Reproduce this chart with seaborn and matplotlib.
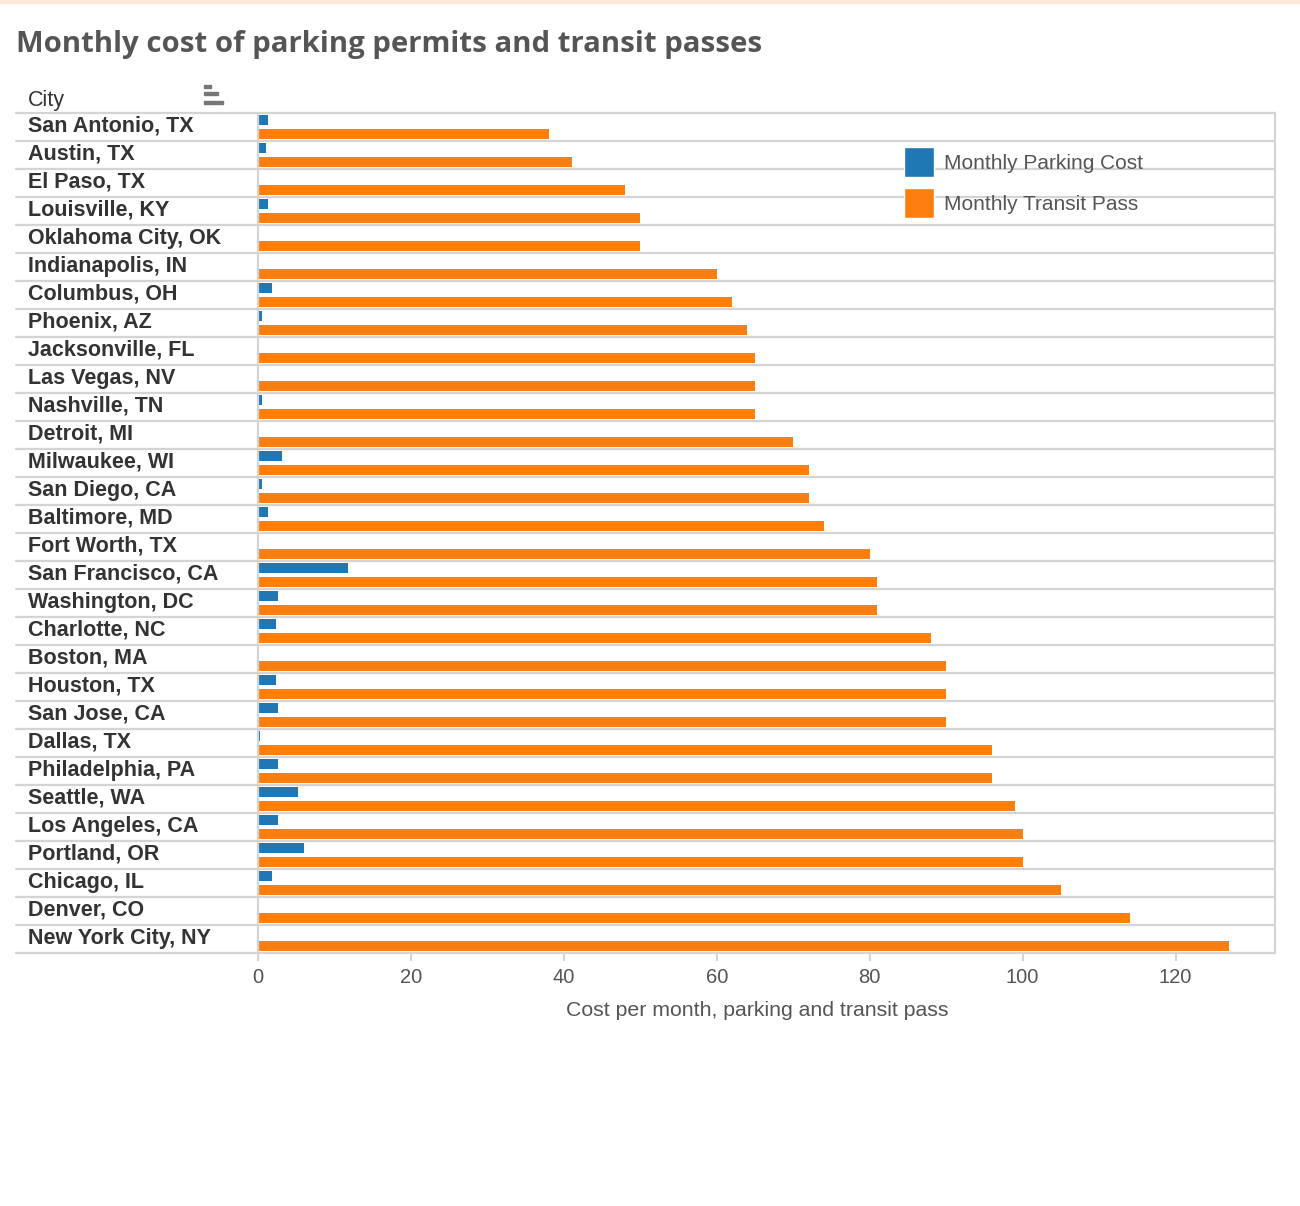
import pandas as pd
import matplotlib.pyplot as plt
import matplotlib.transforms as mtransforms
from matplotlib.patches import Patch, Rectangle
import seaborn as sns

# Data (sorted by transit pass, ascending)
cities = [
    "San Antonio, TX", "Austin, TX", "El Paso, TX", "Louisville, KY",
    "Oklahoma City, OK", "Indianapolis, IN", "Columbus, OH", "Phoenix, AZ",
    "Jacksonville, FL", "Las Vegas, NV", "Nashville, TN", "Detroit, MI",
    "Milwaukee, WI", "San Diego, CA", "Baltimore, MD", "Fort Worth, TX",
    "San Francisco, CA", "Washington, DC", "Charlotte, NC", "Boston, MA",
    "Houston, TX", "San Jose, CA", "Dallas, TX", "Philadelphia, PA",
    "Seattle, WA", "Los Angeles, CA", "Portland, OR", "Chicago, IL",
    "Denver, CO", "New York City, NY",
]
parking = [1.3, 1.05, 0, 1.3, 0, 0, 1.8, 0.5, 0, 0, 0.5, 0, 3.1, 0.5, 1.3,
           0, 11.8, 2.6, 2.35, 0, 2.35, 2.6, 0.25, 2.6, 5.2, 2.6, 6.0, 1.8,
           0, 0]
transit = [38, 41, 48, 50, 50, 60, 62, 64, 65, 65, 65, 70, 72, 72, 74, 80,
           81, 81, 88, 90, 90, 90, 96, 96, 99, 100, 100, 105, 114, 127]
series = ["Monthly Parking Cost", "Monthly Transit Pass"]
colors = ["#1f77b4", "#ff7f0e"]

df = pd.DataFrame({"City": cities, series[0]: parking, series[1]: transit})
long_df = df.melt(id_vars="City", var_name="Measure", value_name="Cost")

W, H = 1300, 1206
sns.set_style("white")
plt.rcParams["font.family"] = ["Liberation Sans", "DejaVu Sans"]

fig = plt.figure(figsize=(W / 100, H / 100), dpi=100)
ax = fig.add_axes([258 / W, 1 - 953 / H, (1275 - 258) / W, (953 - 113) / H])

sns.barplot(data=long_df, y="City", x="Cost", hue="Measure",
            order=cities, hue_order=series, palette=colors, saturation=1,
            orient="h", width=0.96, gap=0.24, linewidth=0, ax=ax,
            legend=False)

ax.set_xlim(0, 133)
ax.set_ylim(len(cities) - 0.5, -0.5)
grid_c = "#d4d4d4"
for s in ax.spines.values():
    s.set_visible(False)
for side in ("left", "right"):
    ax.spines[side].set_visible(True)
    ax.spines[side].set_color(grid_c)
    ax.spines[side].set_linewidth(1.6)

# row separator lines spanning label pane and plot
blend = mtransforms.blended_transform_factory(fig.transFigure, ax.transData)
for k in range(len(cities) + 1):
    ax.plot([16 / W, 1275 / W], [k - 0.5, k - 0.5], transform=blend,
            color=grid_c, lw=1.6, clip_on=False, zorder=0.5)

# y labels (left aligned in the label pane, baseline near row bottom)
ax.tick_params(axis="y", length=0, pad=(258 - 28) * 0.72)
ax.set_yticks([i + 0.17 for i in range(len(cities))])
ax.set_yticklabels(cities, ha="left", va="baseline", fontsize=15.5,
                   fontweight="bold", color="#333333")

ax.set_xticks(range(0, 121, 20))
ax.tick_params(axis="x", bottom=True, length=6, width=1.4, color=grid_c,
               labelsize=14.5, labelcolor="#555555", pad=5)
ax.set_xlabel("Cost per month, parking and transit pass", fontsize=15.3,
              color="#555555")
ax.xaxis.set_label_coords((757 - 258) / (1275 - 258), -(1011 - 953) / (953 - 113),
                          transform=ax.transAxes)
ax.xaxis.label.set_va("center")
ax.set_ylabel("")

fig.text(28 / W, 1 - 106 / H, "City", fontsize=15.5, color="#333333",
         va="baseline", ha="left")
# sort indicator icon next to the header
for w, yy in [(7, 88), (14, 95), (19, 104)]:
    fig.patches.append(Rectangle((204 / W, 1 - yy / H), w / W, 3 / H,
                                 transform=fig.transFigure, color="#777777"))

fig.text(16 / W, 1 - 52 / H,
         "Monthly cost of parking permits and transit passes",
         fontsize=21.2, fontweight="bold", color="#555555", va="baseline",
         ha="left", family=["Open Sans", "DejaVu Sans"])

# faint page border at top
fig.patches.append(Rectangle((0, 1 - 3 / H), 1, 3 / H,
                             transform=fig.transFigure, color="#fde9dc"))

handles = [Patch(facecolor=c, label=s) for c, s in zip(colors, series)]
fig.legend(handles=handles, loc="upper left",
           bbox_to_anchor=(902 / W, 1 - 145 / H), frameon=False,
           fontsize=15, labelcolor="#555555", handlelength=1.45,
           handleheight=1.8, handletextpad=0.45, labelspacing=0.57,
           borderpad=0.1, borderaxespad=0)

fig.savefig("out.png", dpi=100)
